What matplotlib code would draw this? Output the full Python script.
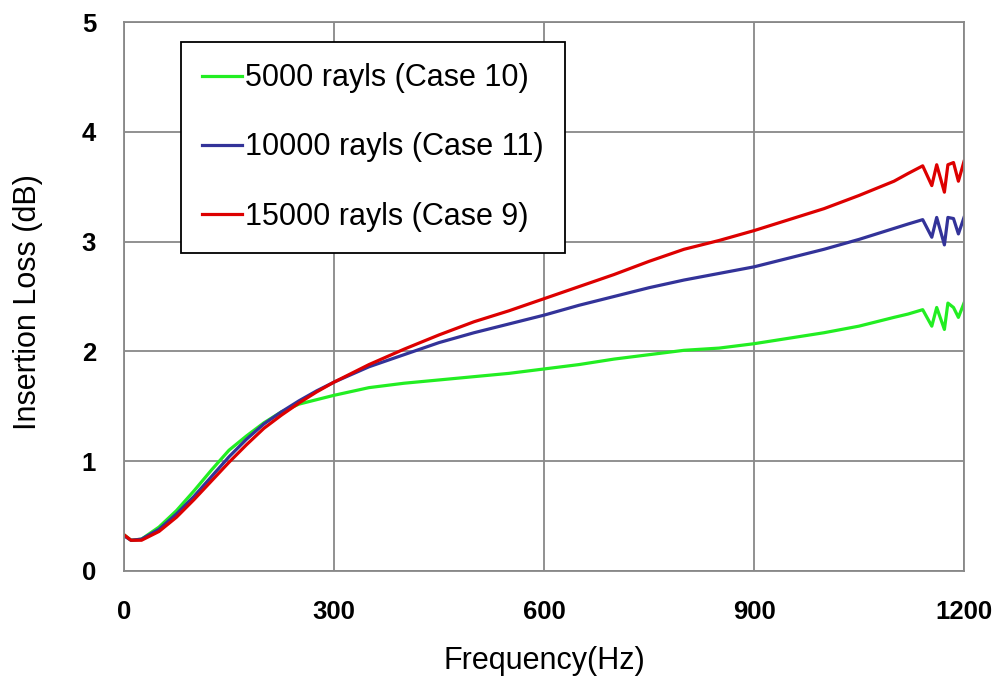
import matplotlib
matplotlib.use("Agg")
import matplotlib.pyplot as plt

plt.rcParams['font.family'] = ['Liberation Sans', 'DejaVu Sans']

freq = [0, 10, 25, 50, 75, 100, 125, 150, 175, 200, 225, 250, 275, 300, 350, 400, 450,
        500, 550, 600, 650, 700, 750, 800, 850, 900, 950, 1000, 1050, 1100, 1120, 1141,
        1154, 1161, 1172, 1177, 1185, 1192, 1200]
il_5000 = [0.33, 0.28, 0.29, 0.40, 0.55, 0.73, 0.92, 1.10, 1.23, 1.35, 1.45, 1.52, 1.56, 1.60,
           1.67, 1.71, 1.74, 1.77, 1.80, 1.84, 1.88, 1.93, 1.97, 2.01, 2.03, 2.07, 2.12, 2.17,
           2.23, 2.31, 2.34, 2.38, 2.23, 2.40, 2.20, 2.44, 2.40, 2.31, 2.44]
il_10000 = [0.32, 0.28, 0.29, 0.38, 0.52, 0.68, 0.86, 1.04, 1.20, 1.34, 1.45, 1.55, 1.64, 1.72,
            1.86, 1.97, 2.08, 2.17, 2.25, 2.33, 2.42, 2.50, 2.58, 2.65, 2.71, 2.77, 2.85, 2.93,
            3.02, 3.12, 3.16, 3.20, 3.04, 3.22, 2.97, 3.22, 3.21, 3.07, 3.22]
il_15000 = [0.33, 0.28, 0.28, 0.36, 0.49, 0.65, 0.82, 0.99, 1.15, 1.30, 1.42, 1.53, 1.63, 1.72,
            1.88, 2.02, 2.15, 2.27, 2.37, 2.48, 2.59, 2.70, 2.82, 2.93, 3.01, 3.10, 3.20, 3.30,
            3.42, 3.55, 3.62, 3.69, 3.51, 3.70, 3.45, 3.70, 3.72, 3.55, 3.73]
labels = ["5000 rayls (Case 10)", "10000 rayls (Case 11)", "15000 rayls (Case 9)"]
colors = ["#22EE22", "#333399", "#DD0000"]
xticks = [0, 300, 600, 900, 1200]
yticks = [0, 1, 2, 3, 4, 5]

fig = plt.figure(figsize=(10.02, 6.79), dpi=100)
ax = fig.add_axes([124/1002, 1-571/679, 840/1002, 549/679])

for y, lab, c in zip([il_5000, il_10000, il_15000], labels, colors):
    ax.plot(freq, y, color=c, lw=2.3, label=lab)

ax.set_xlim(0, 1200)
ax.set_ylim(0, 5)
ax.set_xticks(xticks)
ax.set_yticks(yticks)
ax.grid(True, color="#888888", lw=1.3)
ax.set_axisbelow(True)
for s in ax.spines.values():
    s.set_color("#888888")
    s.set_linewidth(1.3)
ax.tick_params(length=0, labelsize=18.5, pad=20)
ax.tick_params(axis='x', pad=21)
for t in ax.get_xticklabels() + ax.get_yticklabels():
    t.set_fontweight("bold")
ax.set_xlabel("Frequency(Hz)", fontsize=22, va="baseline")
ax.xaxis.set_label_coords(0.5, (571-669)/549)
ax.set_ylabel("Insertion Loss (dB)", fontsize=22, va="baseline")
ax.yaxis.set_label_coords((36-124)/840, (571-302)/549)

leg = ax.legend(loc="upper left", bbox_to_anchor=((181-124)/840, (571-42)/549),
                fontsize=22, frameon=True, fancybox=False, edgecolor="black",
                handlelength=1.3, handletextpad=0.1, labelspacing=1.28,
                borderpad=0.7, borderaxespad=0)
leg.get_frame().set_linewidth(1.3)
leg.get_frame().set_alpha(1)

fig.savefig("out.png", dpi=100)
